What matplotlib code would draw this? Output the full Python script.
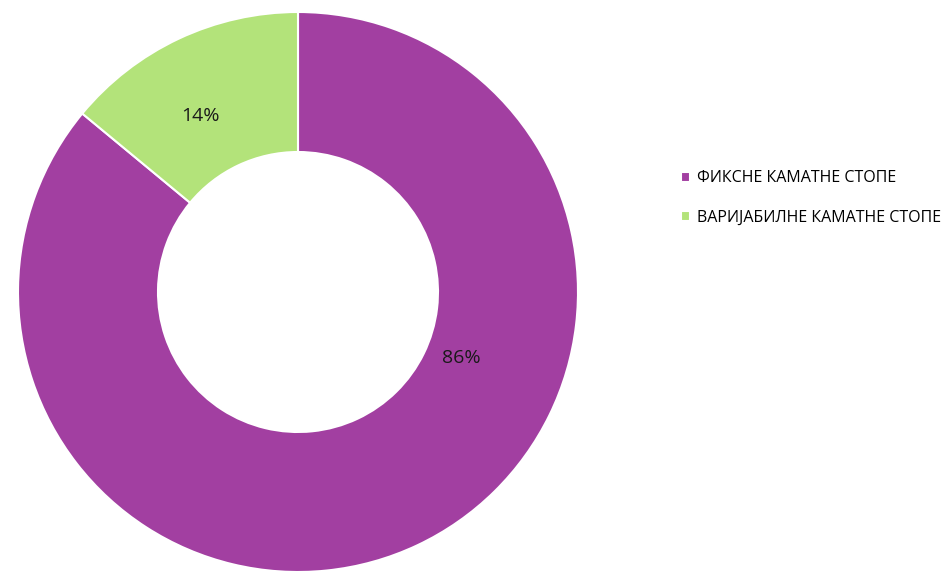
import matplotlib.pyplot as plt
import numpy as np

plt.rcParams['font.family'] = ['Open Sans', 'DejaVu Sans']

labels = ['ФИКСНЕ КАМАТНЕ СТОПЕ', 'ВАРИЈАБИЛНЕ КАМАТНЕ СТОПЕ']
shares = [86, 14]
colors = ['#A23FA1', '#B3E37A']

W, H = 944, 572
fig = plt.figure(figsize=(W / 100, H / 100), dpi=100)
cx, cy, r = 298, 292, 280
ax = fig.add_axes([(cx - r) / W, (H - cy - r) / H, 2 * r / W, 2 * r / H])

wedges, texts, autotexts = ax.pie(
    shares, colors=colors, startangle=90, counterclock=False,
    autopct='%d%%', pctdistance=0.72, radius=1.0,
    wedgeprops=dict(width=0.5, edgecolor='white', linewidth=1.5),
    textprops=dict(fontsize=14, color='#1a1a1a'),
)
ax.set_aspect('equal')
ax.set_xlim(-1.0, 1.0)
ax.set_ylim(-1.0, 1.0)

# Excel places the labels a bit off the slice centres
for t, deg, dist in zip(autotexts, [-22, 119], [0.63, 0.72]):
    a = np.deg2rad(deg)
    t.set_position((dist * np.cos(a), dist * np.sin(a)))

fig.legend(wedges, labels, loc='upper left', bbox_to_anchor=(675 / W, 1 - 164 / H),
           frameon=False, fontsize=11.5, handlelength=0.55, handleheight=0.55,
           handletextpad=0.45, labelspacing=1.45, borderaxespad=0)

fig.savefig('out.png', dpi=100)
